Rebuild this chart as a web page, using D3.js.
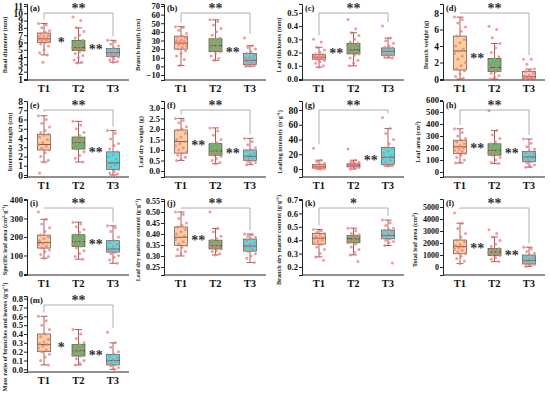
<!DOCTYPE html>
<html>
<head>
<meta charset="utf-8">
<script src="https://cdn.jsdelivr.net/npm/d3@7"></script>
<style>
  body { margin: 0; background: #fff; }
  svg { display: block; }
  text { font-family: "Liberation Serif", "Times New Roman", serif; font-weight: bold; }
</style>
</head>
<body>
<svg id="chart" width="550" height="394"></svg>
<script>
groups = ['T1', 'T2', 'T3']

// five-number summaries per group: [low whisker, q1, median, q3, high whisker]
// points per group are the raw observations read off the picture

// (a)
basalDiameterBox = [[4.3, 6.0, 6.5, 7.3, 8.6], [3.2, 4.9, 5.3, 6.3, 8.0], [3.3, 4.1, 4.6, 5.2, 6.3]]
basalDiameterPts = [
  [8.6, 8.4, 8.0, 7.6, 7.4, 7.2, 7.0, 6.9, 6.8, 6.6, 6.5, 6.4, 6.3, 6.2, 6.1, 6.0, 5.8, 5.5, 5.0, 4.6, 4.3, 3.3],
  [9.5, 9.0, 8.0, 7.5, 7.0, 6.6, 6.3, 6.0, 5.8, 5.6, 5.4, 5.3, 5.2, 5.0, 4.9, 4.7, 4.5, 4.2, 3.9, 3.6, 3.3, 3.2],
  [6.3, 6.1, 5.8, 5.5, 5.2, 5.0, 4.9, 4.7, 4.6, 4.5, 4.4, 4.3, 4.2, 4.1, 4.0, 3.8, 3.6, 3.4, 3.3]
]
basalDiameterTicks = [1, 2, 3, 4, 5, 6, 7, 8, 9, 10, 11]

// (b)
branchLengthBox = [[1, 20, 27, 35, 46], [7, 17, 24, 32, 54], [0, 2, 7, 15, 24]]
branchLengthPts = [
  [46, 45, 42, 38, 35, 34, 33, 31, 30, 29, 28, 27, 26, 25, 24, 22, 20, 18, 15, 12, 8, 1],
  [54, 52, 48, 44, 40, 36, 33, 32, 30, 29, 27, 25, 24, 23, 22, 20, 19, 17, 15, 12, 9, 7],
  [33, 24, 22, 20, 17, 15, 13, 11, 10, 9, 8, 7, 6, 5, 4, 3, 2, 1, 0.5, 0]
]
branchLengthTicks = [-10, 0, 10, 20, 30, 40, 50, 60, 70]

// (c)
leafThicknessBox = [[0.09, 0.15, 0.165, 0.185, 0.24], [0.10, 0.19, 0.22, 0.27, 0.35], [0.16, 0.18, 0.21, 0.235, 0.31]]
leafThicknessPts = [
  [0.30, 0.28, 0.24, 0.22, 0.20, 0.19, 0.185, 0.18, 0.175, 0.17, 0.165, 0.16, 0.155, 0.15, 0.14, 0.13, 0.12, 0.10, 0.09],
  [0.45, 0.38, 0.35, 0.33, 0.30, 0.28, 0.27, 0.26, 0.25, 0.24, 0.23, 0.22, 0.21, 0.20, 0.19, 0.18, 0.16, 0.14, 0.12, 0.10],
  [0.40, 0.31, 0.29, 0.27, 0.25, 0.24, 0.235, 0.23, 0.22, 0.21, 0.205, 0.20, 0.19, 0.185, 0.18, 0.17, 0.165, 0.16]
]
leafThicknessTicks = [0, 0.1, 0.2, 0.3, 0.4, 0.5]

// (d)
branchWeightBox = [[0, 1.1, 3.4, 5.2, 7.5], [0, 0.9, 1.4, 2.5, 4.3], [0, 0, 0.3, 0.9, 1.2]]
branchWeightPts = [
  [7.5, 7.2, 6.8, 6.3, 5.8, 5.2, 4.8, 4.4, 4.0, 3.6, 3.4, 3.1, 2.8, 2.4, 2.0, 1.6, 1.2, 1.0, 0.6, 0.3, 0.1],
  [6.4, 6.0, 5.0, 4.3, 3.8, 3.2, 2.7, 2.5, 2.2, 2.0, 1.7, 1.5, 1.4, 1.2, 1.0, 0.9, 0.7, 0.4, 0.2, 0.0],
  [2.4, 2.4, 1.8, 1.2, 1.0, 0.9, 0.7, 0.5, 0.4, 0.3, 0.25, 0.2, 0.15, 0.1, 0.05, 0.0, 0.0]
]
branchWeightTicks = [0, 2, 4, 6, 8]

// (e)
internodeBox = [[1.4, 2.7, 3.3, 4.4, 6.4], [1.4, 2.8, 3.5, 4.1, 5.8], [0, 0.6, 1.3, 2.5, 4.8]]
internodePts = [
  [6.4, 6.0, 5.6, 5.2, 4.8, 4.6, 4.4, 4.3, 4.1, 3.8, 3.5, 3.3, 3.1, 2.9, 2.7, 2.4, 2.0, 1.6, 1.4, 0.2],
  [5.8, 5.4, 5.0, 4.6, 4.3, 4.1, 3.9, 3.7, 3.6, 3.5, 3.4, 3.2, 3.0, 2.8, 2.5, 2.1, 1.8, 1.4],
  [4.8, 4.5, 3.9, 3.4, 3.2, 2.8, 2.5, 2.2, 2.0, 1.7, 1.4, 1.3, 1.1, 0.9, 0.6, 0.4, 0.2, 0.1, 0.0]
]
internodeTicks = [0, 1, 2, 3, 4, 5, 6, 7, 8]

// (f)
leafDryWeightBox = [[0.5, 0.85, 1.4, 1.95, 2.5], [0.35, 0.75, 0.95, 1.3, 2.05], [0.3, 0.5, 0.7, 1.0, 1.55]]
leafDryWeightPts = [
  [2.5, 2.4, 2.3, 2.1, 2.0, 1.95, 1.8, 1.6, 1.5, 1.4, 1.3, 1.2, 1.1, 1.0, 0.9, 0.85, 0.75, 0.65, 0.55, 0.5],
  [2.05, 1.9, 1.7, 1.5, 1.35, 1.3, 1.2, 1.1, 1.0, 0.95, 0.9, 0.85, 0.8, 0.75, 0.7, 0.6, 0.5, 0.4, 0.35],
  [1.55, 1.4, 1.25, 1.1, 1.0, 0.95, 0.85, 0.8, 0.7, 0.65, 0.6, 0.55, 0.5, 0.45, 0.4, 0.35, 0.3]
]
leafDryWeightTicks = [0, 0.5, 1.0, 1.5, 2.0, 2.5, 3.0]

// (g)
leafingBox = [[0, 1.5, 3, 6, 12], [0, 3, 5, 7, 12], [4, 6, 16, 29, 55]]
leafingPts = [
  [28, 12, 10, 8, 6, 5, 4, 3.5, 3, 2.5, 2, 1.8, 1.5, 1, 0.5, 0],
  [27, 12, 10, 9, 8, 7, 6.5, 6, 5.5, 5, 4.5, 4, 3.5, 3, 2, 1, 0],
  [70, 55, 48, 40, 34, 29, 27, 24, 21, 18, 16, 14, 12, 10, 8, 6, 5, 4.5, 4]
]
leafingTicks = [0, 20, 40, 60, 80]

// (h)
leafAreaBox = [[75, 155, 210, 265, 360], [70, 140, 180, 235, 345], [40, 85, 125, 170, 275]]
leafAreaPts = [
  [360, 330, 300, 280, 265, 250, 235, 220, 210, 200, 190, 180, 170, 160, 155, 140, 120, 100, 80, 75],
  [510, 345, 310, 280, 250, 235, 220, 205, 190, 180, 170, 160, 150, 140, 120, 100, 80, 70],
  [275, 240, 210, 190, 170, 160, 150, 135, 125, 115, 105, 95, 85, 75, 60, 50, 40]
]
leafAreaTicks = [0, 100, 200, 300, 400, 500, 600]

// (i)
slaBox = [[85, 140, 170, 210, 295], [80, 148, 175, 212, 280], [58, 118, 135, 180, 260]]
slaPts = [
  [335, 295, 270, 250, 230, 210, 200, 190, 180, 170, 165, 160, 150, 140, 130, 120, 105, 95, 85],
  [280, 270, 255, 240, 225, 212, 200, 190, 180, 175, 170, 160, 150, 140, 125, 110, 95, 80],
  [260, 250, 230, 200, 180, 170, 160, 150, 140, 135, 130, 125, 118, 110, 100, 90, 75, 58]
]
slaTicks = [0, 100, 200, 300, 400]

// (j)
ldmcBox = [[0.30, 0.348, 0.385, 0.432, 0.50], [0.305, 0.332, 0.347, 0.372, 0.425], [0.27, 0.322, 0.345, 0.377, 0.40]]
ldmcPts = [
  [0.50, 0.49, 0.47, 0.45, 0.44, 0.432, 0.42, 0.41, 0.40, 0.39, 0.385, 0.375, 0.365, 0.355, 0.348, 0.34, 0.33, 0.32, 0.31, 0.30],
  [0.50, 0.425, 0.41, 0.39, 0.38, 0.372, 0.365, 0.36, 0.355, 0.35, 0.347, 0.343, 0.34, 0.335, 0.332, 0.325, 0.32, 0.31, 0.305],
  [0.40, 0.395, 0.39, 0.385, 0.377, 0.37, 0.36, 0.355, 0.35, 0.345, 0.34, 0.335, 0.33, 0.322, 0.31, 0.30, 0.29, 0.27]
]
ldmcTicks = [0.25, 0.30, 0.35, 0.40, 0.45, 0.50, 0.55]

// (k)
bdmcBox = [[0.275, 0.37, 0.415, 0.45, 0.48], [0.29, 0.38, 0.41, 0.435, 0.49], [0.36, 0.41, 0.435, 0.475, 0.55]]
bdmcPts = [
  [0.48, 0.47, 0.46, 0.45, 0.44, 0.43, 0.42, 0.415, 0.41, 0.40, 0.39, 0.38, 0.37, 0.35, 0.33, 0.30, 0.275, 0.25],
  [0.49, 0.47, 0.45, 0.44, 0.435, 0.43, 0.42, 0.41, 0.40, 0.395, 0.39, 0.38, 0.37, 0.35, 0.33, 0.31, 0.29, 0.24],
  [0.55, 0.53, 0.51, 0.49, 0.48, 0.475, 0.46, 0.45, 0.44, 0.435, 0.43, 0.42, 0.41, 0.40, 0.39, 0.38, 0.36, 0.23]
]
bdmcTicks = [0.2, 0.3, 0.4, 0.5, 0.6, 0.7]

// (l)
totalLeafBox = [[300, 1100, 1700, 2250, 3650], [450, 950, 1250, 1550, 2500], [50, 250, 550, 1000, 1650]]
totalLeafPts = [
  [4500, 3650, 3200, 2800, 2500, 2250, 2100, 1900, 1800, 1700, 1600, 1500, 1400, 1250, 1100, 900, 700, 500, 300],
  [3100, 2800, 2500, 2200, 1900, 1700, 1550, 1450, 1350, 1300, 1250, 1200, 1100, 1000, 950, 800, 650, 450],
  [1650, 1500, 1300, 1150, 1000, 900, 800, 700, 600, 550, 450, 400, 300, 250, 200, 100, 50]
]
totalLeafTicks = [0, 1000, 2000, 3000, 4000, 5000]

// (m)
massRatioBox = [[0.05, 0.2, 0.28, 0.4, 0.6], [0.05, 0.15, 0.21, 0.28, 0.45], [0.0, 0.05, 0.1, 0.17, 0.3]]
massRatioPts = [
  [0.60, 0.55, 0.50, 0.45, 0.40, 0.37, 0.34, 0.31, 0.29, 0.28, 0.26, 0.24, 0.22, 0.20, 0.17, 0.14, 0.10, 0.05],
  [0.45, 0.40, 0.35, 0.30, 0.28, 0.26, 0.24, 0.22, 0.21, 0.20, 0.18, 0.16, 0.15, 0.12, 0.10, 0.07, 0.05],
  [0.42, 0.30, 0.25, 0.20, 0.17, 0.15, 0.13, 0.11, 0.10, 0.09, 0.08, 0.06, 0.05, 0.04, 0.02, 0.0]
]
massRatioTicks = [0.0, 0.1, 0.2, 0.3, 0.4, 0.5, 0.6, 0.7, 0.8]

panels = [
  { id: '(a)', title: 'Basal diameter (mm)', box: basalDiameterBox, pts: basalDiameterPts, ticks: basalDiameterTicks, domain: [0.86, 11.27], sig: ['*', '**'], top: '**', fmt: d3.format('d') },
  { id: '(b)', title: 'Branch length (cm)', box: branchLengthBox, pts: branchLengthPts, ticks: branchLengthTicks, domain: [-15.8, 72.3], sig: ['', '**'], top: '**', fmt: d3.format('d') },
  { id: '(c)', title: 'Leaf thickness (mm)', box: leafThicknessBox, pts: leafThicknessPts, ticks: leafThicknessTicks, domain: [-0.007, 0.567], sig: ['**', ''], top: '**', fmt: d3.format('.1f') },
  { id: '(d)', title: 'Branch weight (g)', box: branchWeightBox, pts: branchWeightPts, ticks: branchWeightTicks, domain: [-0.12, 9.09], sig: ['**', ''], top: '**', fmt: d3.format('d'), fills: ['#fbcf9f', '#55bd6a', '#f9d6c2'] },
  { id: '(e)', title: 'Internode length (cm)', box: internodeBox, pts: internodePts, ticks: internodeTicks, domain: [-0.22, 8.0], sig: ['', '**'], top: '**', fmt: d3.format('d') },
  { id: '(f)', title: 'Leaf dry weight (g)', box: leafDryWeightBox, pts: leafDryWeightPts, ticks: leafDryWeightTicks, domain: [-0.286, 3.33], sig: ['**', '**'], top: '**', fmt: d3.format('.1f') },
  { id: '(g)', title: 'Leafing intensity (n·g⁻¹)', box: leafingBox, pts: leafingPts, ticks: leafingTicks, domain: [-10.8, 92.2], sig: ['', '**'], top: '**', fmt: d3.format('d') },
  { id: '(h)', title: 'Leaf area (cm²)', box: leafAreaBox, pts: leafAreaPts, ticks: leafAreaTicks, domain: [-42, 592], sig: ['**', '**'], top: '**', fmt: d3.format('d') },
  { id: '(i)', title: 'Specific leaf area (cm²·g⁻¹)', box: slaBox, pts: slaPts, ticks: slaTicks, domain: [-5.4, 405], sig: ['', '**'], top: '**', fmt: d3.format('d') },
  { id: '(j)', title: 'Leaf dry matter content (g·g⁻¹)', box: ldmcBox, pts: ldmcPts, ticks: ldmcTicks, domain: [0.2136, 0.559], sig: ['**', ''], top: '**', fmt: d3.format('.2f') },
  { id: '(k)', title: 'Branch dry matter content (g·g⁻¹)', box: bdmcBox, pts: bdmcPts, ticks: bdmcTicks, domain: [0.14, 0.7075], sig: ['', ''], top: '*', fmt: d3.format('.1f') },
  { id: '(l)', title: 'Total leaf area (cm²)', box: totalLeafBox, pts: totalLeafPts, ticks: totalLeafTicks, domain: [-667, 5667], sig: ['**', '**'], top: '**', fmt: d3.format('d') },
  { id: '(m)', title: 'Mass ratio of branches and leaves (g·g⁻¹)', box: massRatioBox, pts: massRatioPts, ticks: massRatioTicks, domain: [-0.03, 0.83], sig: ['*', '**'], top: '**', fmt: d3.format('.1f') }
]

colX = [27, 164, 302, 443]
rowY = [0, 97, 195, 292]
fills = ['#fbcf9f', '#55bd6a', '#46e3ea']

svg = d3.select('#chart')

panels.forEach(function(p, n) {
  var ax = colX[n % 4], base = rowY[Math.floor(n / 4)]
  var g = svg.append('g')
  var boxFills = p.fills || fills

  var x = d3.scalePoint().domain(groups).range([ax + 17, ax + 86])
  var y = d3.scaleLinear().domain(p.domain).range([base + 80, base + 4])

  // wider tick labels get a slightly smaller font
  var longest = d3.max(p.ticks, function(t) { return p.fmt(t).length })
  var tickFont = longest <= 2 ? 9.5 : (longest == 3 ? 8.6 : 8)

  // axes
  var yAxis = g.append('g')
   .attr('transform', 'translate(' + ax + ',0)')
   .call(d3.axisLeft(y).tickValues(p.ticks).tickFormat(p.fmt).tickSize(3).tickPadding(1))
   .call(function(a) {
     a.select('.domain').attr('stroke', '#222')
     a.selectAll('.tick line').attr('stroke', '#222')
     a.selectAll('text').attr('font-size', tickFont).attr('fill', '#111')
       .style('font-family', '"Liberation Serif", serif').style('font-weight', 'bold')
   })
  var labelLeft = d3.min(yAxis.selectAll('.tick text').nodes(), function(t) { return t.getBBox().x - 4 })

  g.append('line')
   .attr('x1', ax).attr('x2', ax + 102)
   .attr('y1', base + 80).attr('y2', base + 80)
   .attr('stroke', '#222')
  g.selectAll('.xl').data(groups).enter().append('text')
   .attr('x', function(d) { return x(d) })
   .attr('y', base + 92)
   .attr('text-anchor', 'middle')
   .attr('font-size', 10.5)
   .attr('fill', '#111')
   .text(function(d) { return d })

  // y title
  var tx = Math.max(7, ax + labelLeft - 2.5)
  g.append('text')
   .attr('transform', 'translate(' + tx + ',' + (base + 45) + ') rotate(-90)')
   .attr('text-anchor', 'middle')
   .attr('font-size', 6.3)
   .attr('fill', '#222')
   .text(p.title)

  g.append('text')
   .attr('x', ax + 3).attr('y', base + 11)
   .attr('font-size', 8.5)
   .attr('fill', '#111')
   .text(p.id)

  // boxes
  var bw = 13
  p.box.forEach(function(b, i) {
    var cx = x(groups[i])
    g.append('line').attr('x1', cx).attr('x2', cx).attr('y1', y(b[0])).attr('y2', y(b[4]))
     .attr('stroke', '#8e3b3b').attr('stroke-width', 0.8)
    ;[b[0], b[4]].forEach(function(v) {
      g.append('line').attr('x1', cx - 3.5).attr('x2', cx + 3.5).attr('y1', y(v)).attr('y2', y(v))
       .attr('stroke', '#8e3b3b').attr('stroke-width', 0.8)
    })
    g.append('rect')
     .attr('x', cx - bw / 2).attr('width', bw)
     .attr('y', y(b[3])).attr('height', Math.max(0.5, y(b[1]) - y(b[3])))
     .attr('fill', boxFills[i]).attr('stroke', '#555').attr('stroke-width', 0.7)
    g.append('line').attr('x1', cx - bw / 2).attr('x2', cx + bw / 2).attr('y1', y(b[2])).attr('y2', y(b[2]))
     .attr('stroke', '#444').attr('stroke-width', 0.8)
  })

  // jittered observations
  p.pts.forEach(function(vals, i) {
    var cx = x(groups[i])
    g.selectAll('.pt' + i).data(vals).enter().append('circle')
     .attr('cx', function(d, k) { return cx + (((k * 7) % 11) - 5) * 1.1 })
     .attr('cy', function(d) { return y(d) })
     .attr('r', 1.5)
     .attr('fill', '#f07878')
     .attr('fill-opacity', 0.75)
  })

  // pairwise significance
  p.sig.forEach(function(s, i) {
    if (!s) return
    var mx = (x(groups[i]) + x(groups[i + 1])) / 2
    var my = y((p.box[i][2] + p.box[i + 1][2]) / 2)
    g.append('text').attr('x', mx).attr('y', my + 4)
     .attr('text-anchor', 'middle').attr('font-size', 14).attr('fill', '#333')
     .text(s)
  })

  // T1 vs T3 bracket
  var x1 = x('T1'), x3 = x('T3'), by = base + 13
  var top1 = y(d3.max(p.pts[0])) - 4, top3 = y(d3.max(p.pts[2])) - 4
  g.append('path')
   .attr('d', 'M' + x1 + ',' + top1 + 'V' + by + 'H' + x3 + 'V' + top3)
   .attr('fill', 'none').attr('stroke', '#999').attr('stroke-width', 0.8)
  g.append('text').attr('x', (x1 + x3) / 2).attr('y', by)
   .attr('text-anchor', 'middle').attr('font-size', 14).attr('fill', '#333')
   .text(p.top)
})
</script>
</body>
</html>
